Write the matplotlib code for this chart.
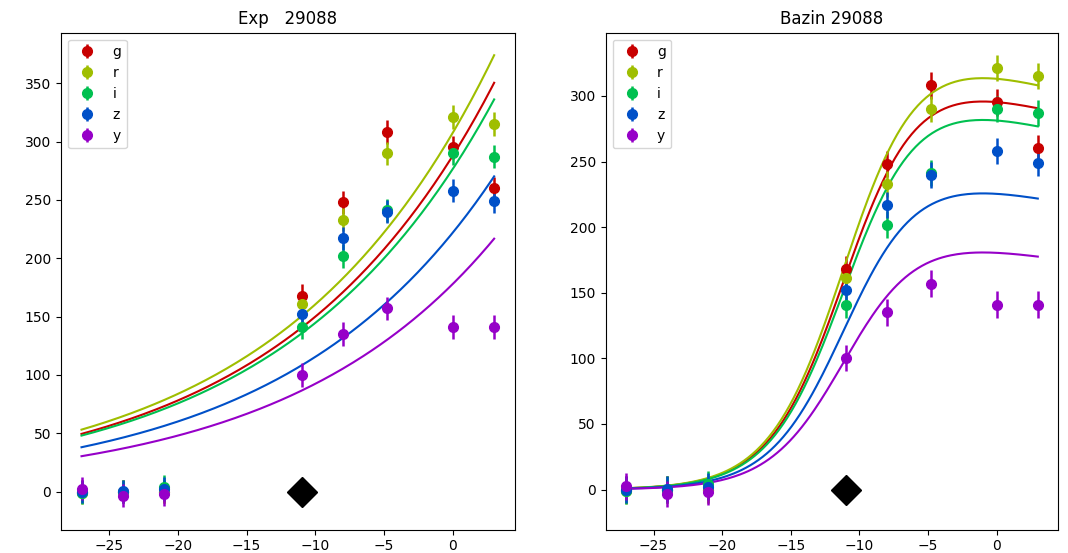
#!/usr/bin/env python3

import numpy as np
import matplotlib.pyplot as plt

# observation epochs (days) and band fluxes
t_arr = np.array([-27.0, -24.0, -21.0, -11.0, -8.0, -4.8, 0.0, 3.0])

bands = ["g", "r", "i", "z", "y"]
colors = ["#c80000", "#9fbe00", "#00c050", "#0050c8", "#9600c8"]

g_flux = [0.0, 0.0, 0.0, 168, 248, 308, 295, 260]
r_flux = [-1.0, 0.0, 0.0, 161, 233, 290, 321, 315]
i_flux = [-1.0, 0.0, 4.0, 141, 202, 241, 290, 287]
z_flux = [0.0, 0.3, 2.3, 152, 217, 240, 258, 249]
y_flux = [2.4, -3.4, -2.0, 100, 135, 157, 141, 141]

g_err = [10, 10, 10, 10, 10, 10, 10, 10]
r_err = [10, 10, 10, 10, 10, 10, 10, 10]
i_err = [10, 10, 10, 10, 10, 10, 10, 10]
z_err = [10, 10, 10, 10, 10, 10, 10, 10]
y_err = [10, 10, 10, 10, 10, 10, 10, 10]

flux_lst = [g_flux, r_flux, i_flux, z_flux, y_flux]
err_lst = [g_err, r_err, i_err, z_err, y_err]

# Exp fit : A * exp(B * t)
exp_a = [288.0, 307.6, 276.6, 222.0, 178.0]
exp_b = [0.0653, 0.0651, 0.0649, 0.0654, 0.0656]

# Bazin fit : A * exp(-(t-t0)/tfall) / (1 + exp(-(t-t0)/trise))
bazin_a = [332.4, 352.4, 316.6, 253.7, 203.1]
bazin_t0 = -10.9
bazin_trise = 2.7
bazin_tfall = 108.0

t_peak = -11.0

x_arr = np.linspace(t_arr[0], t_arr[-1], 200)

def plot_band(ax, k) :
	ax.errorbar(t_arr, flux_lst[k], yerr=err_lst[k], fmt='o', color=colors[k],
		markersize=7, elinewidth=1.8, label=bands[k])

fig = plt.figure(figsize=(10.68, 5.53), dpi=100)

ax1 = fig.add_axes([0.057, 0.042, 0.425, 0.899])
for k in range(len(bands)) :
	plot_band(ax1, k)
	ax1.plot(x_arr, exp_a[k] * np.exp(exp_b[k] * x_arr), color=colors[k], linewidth=1.5)
ax1.plot([t_peak], [0], 'kD', markersize=15)
ax1.set_title("Exp   29088")
ax1.legend(loc="upper left")

ax2 = fig.add_axes([0.567, 0.042, 0.424, 0.899])
for k in range(len(bands)) :
	plot_band(ax2, k)
	u = x_arr - bazin_t0
	ax2.plot(x_arr, bazin_a[k] * np.exp(-u / bazin_tfall) / (1.0 + np.exp(-u / bazin_trise)),
		color=colors[k], linewidth=1.5)
ax2.plot([t_peak], [0], 'kD', markersize=15)
ax2.set_title("Bazin 29088")
ax2.legend(loc="upper left")

plt.savefig("out.png")
